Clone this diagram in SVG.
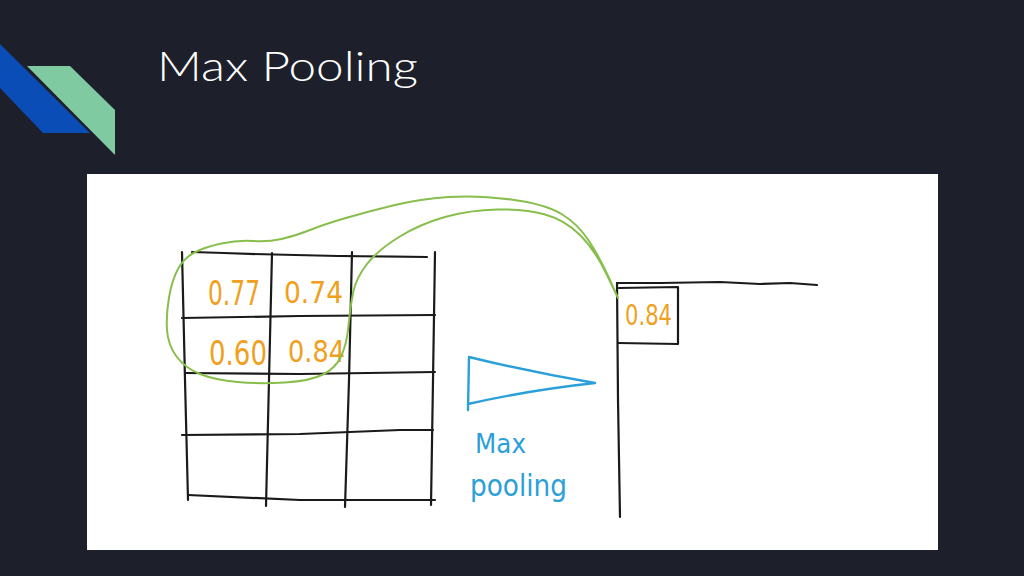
<svg xmlns="http://www.w3.org/2000/svg" width="1024" height="576" viewBox="0 0 1024 576">
<style>
.ink{fill:none;stroke:#1a1a1a;stroke-width:2.2;stroke-linecap:round;stroke-linejoin:round}
.num{fill:#f0a01c;font-family:"DejaVu Sans","Liberation Sans",sans-serif;font-weight:normal}
.blue{fill:none;stroke:#2b9fd9;stroke-width:2.4;stroke-linecap:round;stroke-linejoin:round}
.bluetxt{fill:#2b9fd9;font-family:"DejaVu Sans","Liberation Sans",sans-serif}
.green{fill:none;stroke:#88bf4c;stroke-width:2;stroke-linecap:round;stroke-linejoin:round}
</style>
<rect width="1024" height="576" fill="#1d202b"/>
<g id="logo">
<polygon points="0,44 90,133 43,133 0,88" fill="#0b4db6"/>
<polygon points="27,66 70,66 115,110 115,155" fill="#7fcaa0"/>
</g>
<text id="title" x="157" y="81" font-family="Lato,'Open Sans',sans-serif" font-weight="300" font-size="42" fill="#ffffff" textLength="261" lengthAdjust="spacingAndGlyphs">Max Pooling</text>
<rect id="panel" x="87" y="174" width="851" height="376" fill="#ffffff"/>
<g id="input-grid">
<path class="ink" d="M182,252 L185,380 L188,500"/>
<path class="ink" d="M272,253 L269,380 L266,506"/>
<path class="ink" d="M352,252 L349,380 L345,507"/>
<path class="ink" d="M435,252 L433,380 L431,505"/>
<path class="ink" d="M192,252 Q300,256 427,257"/>
<path class="ink" d="M182,318 L300,316 L435,315"/>
<path class="ink" d="M185,373 L300,374 L435,372"/>
<path class="ink" d="M182,435 L300,434 L400,430 L433,430"/>
<path class="ink" d="M188,495 L300,500 L435,500"/>
</g>
<g id="values">
<text class="num" x="208" y="305" font-size="34" textLength="52" lengthAdjust="spacingAndGlyphs">0.77</text>
<text class="num" x="284" y="303" font-size="31" textLength="59" lengthAdjust="spacingAndGlyphs">0.74</text>
<text class="num" x="209" y="365" font-size="34" textLength="58" lengthAdjust="spacingAndGlyphs">0.60</text>
<text class="num" x="288" y="362" font-size="30" textLength="57" lengthAdjust="spacingAndGlyphs">0.84</text>
</g>
<g id="output">
<path class="ink" d="M617,283 L660,283 L720,282 L760,284 L790,283 L817,285"/>
<path class="ink" d="M617,283 L618,400 L620,517"/>
<path class="ink" d="M619,288 L678,287 L678,344 L618,343"/>
<text class="num" x="625" y="325" font-size="28" textLength="47" lengthAdjust="spacingAndGlyphs">0.84</text>
</g>
<g id="pooling-op">
<path class="blue" d="M469,357 Q530,372 595,383 Q530,390 468,404 M469,357 L468,410"/>
<text class="bluetxt" x="475" y="453" font-size="27" textLength="51" lengthAdjust="spacingAndGlyphs">Max</text>
<text class="bluetxt" x="470" y="496" font-size="30" textLength="97" lengthAdjust="spacingAndGlyphs">pooling</text>
</g>
<g id="connectors">
<path class="green" d="M618,298 L609,278 Q600,258 589,241 Q578,224 561.5,214 Q545,204 511,199.5 Q477,195 448.5,197 Q420,199 395,205 Q370,211 347.5,217.5 Q325,224 310,230 Q295,236 281.5,239 Q268,242 253,241 Q238,240 221.5,243.5 Q205,247 194.5,252.5 Q184,258 178,269 Q172,280 169,297.5 Q166,315 167,330 Q168,345 176.5,356.5 Q185,368 200,374 Q215,380 237.5,382 Q260,384 285,382.5 Q310,381 323,374.5 Q336,368 341.5,355.5 Q347,343 348.5,325.5 Q350,308 353,293 Q356,278 367,264 Q378,250 399,237 Q420,224 445,217 Q470,210 497.5,209.5 Q525,209 545,214.5 Q565,220 580,235 Q595,250 606.5,274 L618,298"/>
</g>
</svg>
